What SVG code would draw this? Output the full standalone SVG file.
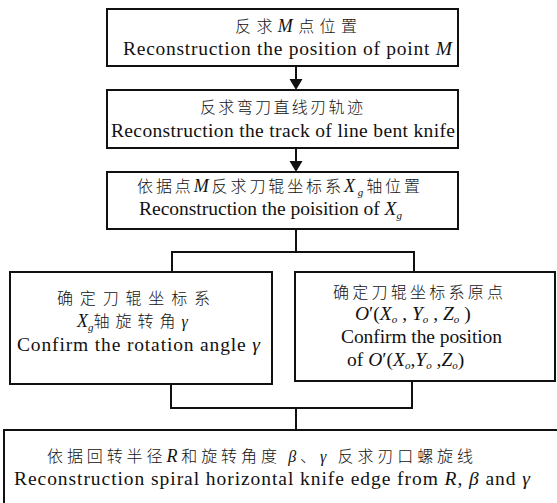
<svg xmlns="http://www.w3.org/2000/svg" width="557" height="503" viewBox="0 0 557 503">
<defs>
<style>
.box{fill:#fff;stroke:#111;stroke-width:2}
.ln{fill:none;stroke:#111;stroke-width:2}
.cn{font-family:"Noto Sans CJK SC",sans-serif;font-size:16px;font-weight:300;fill:#111}
.en{font-family:"Liberation Serif",serif;font-size:19.5px;fill:#111}
.it{font-family:"Liberation Serif",serif;font-style:italic;font-weight:normal}
.sub{font-size:11px}
</style>
</defs>
<rect width="557" height="503" fill="#fff"/>
<g id="connectors">
<line class="ln" x1="296" y1="66" x2="296" y2="79"/>
<path d="M289.5,79 L302.5,79 L296,90 Z" fill="#111"/>
<line class="ln" x1="296" y1="148" x2="296" y2="161"/>
<path d="M289.5,161 L302.5,161 L296,172 Z" fill="#111"/>
<polyline class="ln" points="296,229 296,252"/>
<polyline class="ln" points="172,272 172,252 414,252 414,272"/>
<polyline class="ln" points="171,384 171,408 412,408 412,381"/>
<polyline class="ln" points="296,408 296,430"/>
</g>
<g id="n1">
<rect class="box" x="107" y="9" width="351" height="57"/>
<text class="cn" x="235" y="32" textLength="122" lengthAdjust="spacing">反求<tspan class="it" font-size="18">M</tspan>点位置</text>
<text class="en" x="123" y="55" textLength="329" lengthAdjust="spacing">Reconstruction the position of point <tspan class="it">M</tspan></text>
</g>
<g id="n2">
<rect class="box" x="107" y="90" width="351" height="58"/>
<text class="cn" x="200" y="113" textLength="163" lengthAdjust="spacing">反求弯刀直线刃轨迹</text>
<text class="en" x="111" y="137" textLength="344" lengthAdjust="spacing">Reconstruction the track of line bent knife</text>
</g>
<g id="n3">
<rect class="box" x="107" y="172" width="351" height="57"/>
<text class="cn" x="137" y="192" textLength="283" lengthAdjust="spacing">依据点<tspan class="it" font-size="18">M</tspan>反求刀辊坐标系<tspan class="it" font-size="18">X</tspan><tspan class="it sub" dy="4">g</tspan><tspan dy="-4">轴位置</tspan></text>
<text class="en" x="139" y="215" textLength="263" lengthAdjust="spacing">Reconstruction the poisition of <tspan class="it">X</tspan><tspan class="it sub" dy="4">g</tspan></text>
</g>
<g id="n4">
<rect class="box" x="10" y="272" width="262" height="112"/>
<text class="cn" x="57" y="304" textLength="153" lengthAdjust="spacing">确定刀辊坐标系</text>
<text class="cn" x="77" y="327"><tspan class="it" font-size="18">X</tspan><tspan class="it sub" dy="4">g</tspan><tspan dy="-4" letter-spacing="6">轴旋转角</tspan><tspan class="it" font-size="16">γ</tspan></text>
<text class="en" x="17" y="351" textLength="243" lengthAdjust="spacing">Confirm the rotation angle <tspan class="it">γ</tspan></text>
</g>
<g id="n5">
<rect class="box" x="295" y="272" width="260" height="109"/>
<text class="cn" x="333" y="298" textLength="170" lengthAdjust="spacing">确定刀辊坐标系原点</text>
<text class="en" x="355" y="320"><tspan class="it">O</tspan>′(<tspan class="it">X</tspan><tspan class="it sub" dy="3">o</tspan><tspan dy="-3"> , </tspan><tspan class="it">Y</tspan><tspan class="it sub" dy="3">o</tspan><tspan dy="-3"> , </tspan><tspan class="it">Z</tspan><tspan class="it sub" dy="3">o</tspan><tspan dy="-3"> )</tspan></text>
<text class="en" x="341" y="343" textLength="161" lengthAdjust="spacing">Confirm the position</text>
<text class="en" x="347" y="366">of <tspan class="it">O</tspan>′(<tspan class="it">X</tspan><tspan class="it sub" dy="3">o</tspan><tspan dy="-3">,</tspan><tspan class="it">Y</tspan><tspan class="it sub" dy="3">o</tspan><tspan dy="-3"> ,</tspan><tspan class="it">Z</tspan><tspan class="it sub" dy="3">o</tspan><tspan dy="-3">)</tspan></text>
</g>
<g id="n6">
<rect class="box" x="4" y="430" width="560" height="80"/>
<text class="cn" x="47" y="462" textLength="426" lengthAdjust="spacing">依据回转半径<tspan class="it" font-size="18">R</tspan>和旋转角度 <tspan class="it">β</tspan>、<tspan class="it">γ</tspan> 反求刃口螺旋线</text>
<text class="en" x="14" y="485" textLength="516" lengthAdjust="spacing">Reconstruction spiral horizontal knife edge from <tspan class="it">R</tspan>, <tspan class="it">β</tspan> and <tspan class="it">γ</tspan></text>
</g>
</svg>
